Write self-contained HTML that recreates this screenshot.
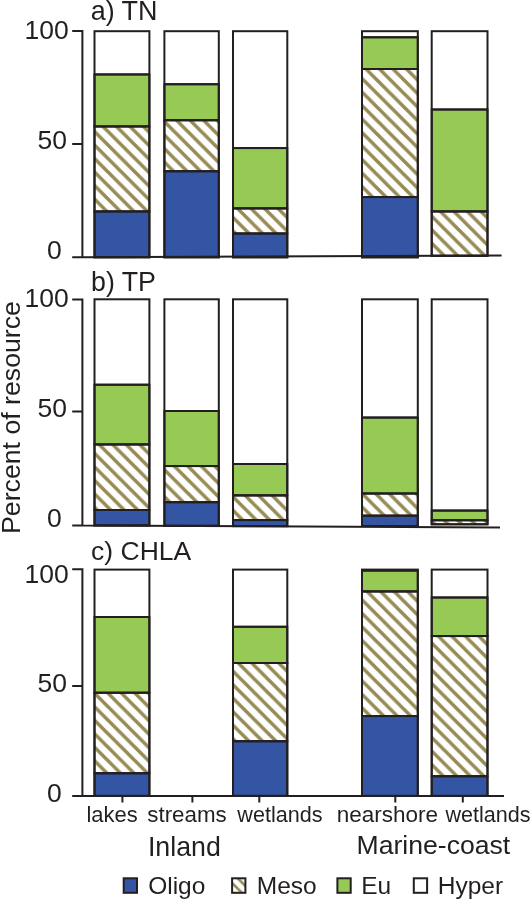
<!DOCTYPE html>
<html><head><meta charset="utf-8"><style>
html,body{margin:0;padding:0;background:#fff;}
body{width:531px;height:900px;overflow:hidden;}
svg{display:block;will-change:transform;}
text{font-family:"Liberation Sans",sans-serif;fill:#231f20;}
</style></head><body>
<svg width="531" height="900" viewBox="0 0 531 900">
<defs>
<pattern id="h0lakes" x="0" y="-3.5" width="13.5" height="13.5" patternUnits="userSpaceOnUse"><rect width="13.5" height="13.5" fill="#fff"/><path d="M-2,-2 L15.5,15.5 M11.5,-2 L15.5,2 M-2,11.5 L2,15.5" stroke="#978b55" stroke-width="3.5"/></pattern>
<pattern id="h0streams" x="0" y="-2.3" width="13.5" height="13.5" patternUnits="userSpaceOnUse"><rect width="13.5" height="13.5" fill="#fff"/><path d="M-2,-2 L15.5,15.5 M11.5,-2 L15.5,2 M-2,11.5 L2,15.5" stroke="#978b55" stroke-width="3.5"/></pattern>
<pattern id="h0wet" x="0" y="-2.1" width="13.5" height="13.5" patternUnits="userSpaceOnUse"><rect width="13.5" height="13.5" fill="#fff"/><path d="M-2,-2 L15.5,15.5 M11.5,-2 L15.5,2 M-2,11.5 L2,15.5" stroke="#978b55" stroke-width="3.5"/></pattern>
<pattern id="h0near" x="0" y="0.0" width="13.5" height="13.5" patternUnits="userSpaceOnUse"><rect width="13.5" height="13.5" fill="#fff"/><path d="M-2,-2 L15.5,15.5 M11.5,-2 L15.5,2 M-2,11.5 L2,15.5" stroke="#978b55" stroke-width="3.5"/></pattern>
<pattern id="h0mwet" x="0" y="0.5" width="13.5" height="13.5" patternUnits="userSpaceOnUse"><rect width="13.5" height="13.5" fill="#fff"/><path d="M-2,-2 L15.5,15.5 M11.5,-2 L15.5,2 M-2,11.5 L2,15.5" stroke="#978b55" stroke-width="3.5"/></pattern>
<pattern id="h1lakes" x="0" y="-5.7" width="13.5" height="13.5" patternUnits="userSpaceOnUse"><rect width="13.5" height="13.5" fill="#fff"/><path d="M-2,-2 L15.5,15.5 M11.5,-2 L15.5,2 M-2,11.5 L2,15.5" stroke="#978b55" stroke-width="3.5"/></pattern>
<pattern id="h1streams" x="0" y="-5.2" width="13.5" height="13.5" patternUnits="userSpaceOnUse"><rect width="13.5" height="13.5" fill="#fff"/><path d="M-2,-2 L15.5,15.5 M11.5,-2 L15.5,2 M-2,11.5 L2,15.5" stroke="#978b55" stroke-width="3.5"/></pattern>
<pattern id="h1wet" x="0" y="-6.2" width="13.5" height="13.5" patternUnits="userSpaceOnUse"><rect width="13.5" height="13.5" fill="#fff"/><path d="M-2,-2 L15.5,15.5 M11.5,-2 L15.5,2 M-2,11.5 L2,15.5" stroke="#978b55" stroke-width="3.5"/></pattern>
<pattern id="h1near" x="0" y="-3.6" width="13.5" height="13.5" patternUnits="userSpaceOnUse"><rect width="13.5" height="13.5" fill="#fff"/><path d="M-2,-2 L15.5,15.5 M11.5,-2 L15.5,2 M-2,11.5 L2,15.5" stroke="#978b55" stroke-width="3.5"/></pattern>
<pattern id="h1mwet" x="0" y="-5.0" width="13.5" height="13.5" patternUnits="userSpaceOnUse"><rect width="13.5" height="13.5" fill="#fff"/><path d="M-2,-2 L15.5,15.5 M11.5,-2 L15.5,2 M-2,11.5 L2,15.5" stroke="#978b55" stroke-width="3.5"/></pattern>
<pattern id="h2lakes" x="0" y="4.7" width="13.5" height="13.5" patternUnits="userSpaceOnUse"><rect width="13.5" height="13.5" fill="#fff"/><path d="M-2,-2 L15.5,15.5 M11.5,-2 L15.5,2 M-2,11.5 L2,15.5" stroke="#978b55" stroke-width="3.5"/></pattern>
<pattern id="h2wet" x="0" y="6.2" width="13.5" height="13.5" patternUnits="userSpaceOnUse"><rect width="13.5" height="13.5" fill="#fff"/><path d="M-2,-2 L15.5,15.5 M11.5,-2 L15.5,2 M-2,11.5 L2,15.5" stroke="#978b55" stroke-width="3.5"/></pattern>
<pattern id="h2near" x="0" y="-5.2" width="13.5" height="13.5" patternUnits="userSpaceOnUse"><rect width="13.5" height="13.5" fill="#fff"/><path d="M-2,-2 L15.5,15.5 M11.5,-2 L15.5,2 M-2,11.5 L2,15.5" stroke="#978b55" stroke-width="3.5"/></pattern>
<pattern id="h2mwet" x="0" y="-4.7" width="13.5" height="13.5" patternUnits="userSpaceOnUse"><rect width="13.5" height="13.5" fill="#fff"/><path d="M-2,-2 L15.5,15.5 M11.5,-2 L15.5,2 M-2,11.5 L2,15.5" stroke="#978b55" stroke-width="3.5"/></pattern>
<pattern id="hatch2" x="0" y="2" width="10.3" height="10.3" patternUnits="userSpaceOnUse">
<rect width="10.3" height="10.3" fill="#fff"/>
<path d="M-2,-2 L12.3,12.3 M8.3,-2 L12.3,2 M-2,8.3 L2,12.3" stroke="#978b55" stroke-width="2.6"/>
</pattern>
</defs>
<g stroke="#231f20" stroke-width="2.0">
<rect x="94.5" y="74.4" width="54.90" height="52.10" fill="#96ca55"/>
<rect x="94.5" y="126.5" width="54.90" height="85.00" fill="url(#h0lakes)"/>
<rect x="94.5" y="211.5" width="54.90" height="45.80" fill="#3454a4"/>
<line x1="94.5" x2="149.4" y1="74.4" y2="74.4"/>
<line x1="94.5" x2="149.4" y1="126.5" y2="126.5"/>
<line x1="94.5" x2="149.4" y1="211.5" y2="211.5"/>
<rect x="94.5" y="31.2" width="54.90" height="226.10" fill="none"/>
<rect x="164.4" y="84.2" width="54.40" height="36.10" fill="#96ca55"/>
<rect x="164.4" y="120.3" width="54.40" height="51.00" fill="url(#h0streams)"/>
<rect x="164.4" y="171.3" width="54.40" height="86.00" fill="#3454a4"/>
<line x1="164.4" x2="218.8" y1="84.2" y2="84.2"/>
<line x1="164.4" x2="218.8" y1="120.3" y2="120.3"/>
<line x1="164.4" x2="218.8" y1="171.3" y2="171.3"/>
<rect x="164.4" y="31.2" width="54.40" height="226.10" fill="none"/>
<rect x="233.0" y="148.1" width="54.30" height="60.30" fill="#96ca55"/>
<rect x="233.0" y="208.4" width="54.30" height="25.20" fill="url(#h0wet)"/>
<rect x="233.0" y="233.6" width="54.30" height="23.70" fill="#3454a4"/>
<line x1="233.0" x2="287.3" y1="148.1" y2="148.1"/>
<line x1="233.0" x2="287.3" y1="208.4" y2="208.4"/>
<line x1="233.0" x2="287.3" y1="233.6" y2="233.6"/>
<rect x="233.0" y="31.2" width="54.30" height="226.10" fill="none"/>
<rect x="362.0" y="37.3" width="55.80" height="31.70" fill="#96ca55"/>
<rect x="362.0" y="69.0" width="55.80" height="128.10" fill="url(#h0near)"/>
<rect x="362.0" y="197.1" width="55.80" height="60.20" fill="#3454a4"/>
<line x1="362.0" x2="417.8" y1="37.3" y2="37.3"/>
<line x1="362.0" x2="417.8" y1="69.0" y2="69.0"/>
<line x1="362.0" x2="417.8" y1="197.1" y2="197.1"/>
<rect x="362.0" y="31.2" width="55.80" height="226.10" fill="none"/>
<rect x="431.7" y="109.5" width="55.80" height="102.00" fill="#96ca55"/>
<rect x="431.7" y="211.5" width="55.80" height="44.30" fill="url(#h0mwet)"/>
<line x1="431.7" x2="487.5" y1="109.5" y2="109.5"/>
<line x1="431.7" x2="487.5" y1="211.5" y2="211.5"/>
<rect x="431.7" y="31.2" width="55.80" height="224.60" fill="none"/>
<path d="M72.2,31.0 H82.4 V257.3 M72.2,144.0 H82.4 M72.2,257.3 L82.4,257.3 L501.6,255.6" fill="none"/>
<rect x="94.5" y="384.7" width="54.90" height="59.80" fill="#96ca55"/>
<rect x="94.5" y="444.5" width="54.90" height="65.50" fill="url(#h1lakes)"/>
<rect x="94.5" y="510.0" width="54.90" height="15.40" fill="#3454a4"/>
<line x1="94.5" x2="149.4" y1="384.7" y2="384.7"/>
<line x1="94.5" x2="149.4" y1="444.5" y2="444.5"/>
<line x1="94.5" x2="149.4" y1="510.0" y2="510.0"/>
<rect x="94.5" y="299.3" width="54.90" height="226.10" fill="none"/>
<rect x="164.4" y="411.0" width="54.40" height="55.10" fill="#96ca55"/>
<rect x="164.4" y="466.1" width="54.40" height="36.10" fill="url(#h1streams)"/>
<rect x="164.4" y="502.2" width="54.40" height="23.60" fill="#3454a4"/>
<line x1="164.4" x2="218.8" y1="411.0" y2="411.0"/>
<line x1="164.4" x2="218.8" y1="466.1" y2="466.1"/>
<line x1="164.4" x2="218.8" y1="502.2" y2="502.2"/>
<rect x="164.4" y="299.3" width="54.40" height="226.50" fill="none"/>
<rect x="233.0" y="464.0" width="54.30" height="31.40" fill="#96ca55"/>
<rect x="233.0" y="495.4" width="54.30" height="24.70" fill="url(#h1wet)"/>
<rect x="233.0" y="520.1" width="54.30" height="6.00" fill="#3454a4"/>
<line x1="233.0" x2="287.3" y1="464.0" y2="464.0"/>
<line x1="233.0" x2="287.3" y1="495.4" y2="495.4"/>
<line x1="233.0" x2="287.3" y1="520.1" y2="520.1"/>
<rect x="233.0" y="299.3" width="54.30" height="226.80" fill="none"/>
<rect x="362.0" y="417.6" width="55.80" height="76.00" fill="#96ca55"/>
<rect x="362.0" y="493.6" width="55.80" height="22.10" fill="url(#h1near)"/>
<rect x="362.0" y="515.7" width="55.80" height="10.30" fill="#3454a4"/>
<line x1="362.0" x2="417.8" y1="417.6" y2="417.6"/>
<line x1="362.0" x2="417.8" y1="493.6" y2="493.6"/>
<line x1="362.0" x2="417.8" y1="515.7" y2="515.7"/>
<rect x="362.0" y="299.3" width="55.80" height="226.70" fill="none"/>
<rect x="431.7" y="510.6" width="55.80" height="9.70" fill="#96ca55"/>
<rect x="431.7" y="520.3" width="55.80" height="4.00" fill="url(#h1mwet)"/>
<line x1="431.7" x2="487.5" y1="510.6" y2="510.6"/>
<line x1="431.7" x2="487.5" y1="520.3" y2="520.3"/>
<rect x="431.7" y="299.3" width="55.80" height="225.00" fill="none"/>
<path d="M72.2,299.4 H82.4 V525.5 M72.2,411.6 H82.4 M72.2,525.5 L82.4,525.5 L500.0,527.5" fill="none"/>
<rect x="94.5" y="617.0" width="54.90" height="75.80" fill="#96ca55"/>
<rect x="94.5" y="692.8" width="54.90" height="80.50" fill="url(#h2lakes)"/>
<rect x="94.5" y="773.3" width="54.90" height="22.60" fill="#3454a4"/>
<line x1="94.5" x2="149.4" y1="617.0" y2="617.0"/>
<line x1="94.5" x2="149.4" y1="692.8" y2="692.8"/>
<line x1="94.5" x2="149.4" y1="773.3" y2="773.3"/>
<rect x="94.5" y="569.6" width="54.90" height="226.30" fill="none"/>
<rect x="233.0" y="626.8" width="54.30" height="36.20" fill="#96ca55"/>
<rect x="233.0" y="663.0" width="54.30" height="78.30" fill="url(#h2wet)"/>
<rect x="233.0" y="741.3" width="54.30" height="54.60" fill="#3454a4"/>
<line x1="233.0" x2="287.3" y1="626.8" y2="626.8"/>
<line x1="233.0" x2="287.3" y1="663.0" y2="663.0"/>
<line x1="233.0" x2="287.3" y1="741.3" y2="741.3"/>
<rect x="233.0" y="569.6" width="54.30" height="226.30" fill="none"/>
<rect x="362.0" y="570.6" width="55.80" height="20.90" fill="#96ca55"/>
<rect x="362.0" y="591.5" width="55.80" height="124.60" fill="url(#h2near)"/>
<rect x="362.0" y="716.1" width="55.80" height="79.80" fill="#3454a4"/>
<line x1="362.0" x2="417.8" y1="570.6" y2="570.6"/>
<line x1="362.0" x2="417.8" y1="591.5" y2="591.5"/>
<line x1="362.0" x2="417.8" y1="716.1" y2="716.1"/>
<rect x="362.0" y="569.6" width="55.80" height="226.30" fill="none"/>
<rect x="431.7" y="597.5" width="55.80" height="38.60" fill="#96ca55"/>
<rect x="431.7" y="636.1" width="55.80" height="140.20" fill="url(#h2mwet)"/>
<rect x="431.7" y="776.3" width="55.80" height="19.60" fill="#3454a4"/>
<line x1="431.7" x2="487.5" y1="597.5" y2="597.5"/>
<line x1="431.7" x2="487.5" y1="636.1" y2="636.1"/>
<line x1="431.7" x2="487.5" y1="776.3" y2="776.3"/>
<rect x="431.7" y="569.6" width="55.80" height="226.30" fill="none"/>
<path d="M72.2,569.2 H82.4 V795.9 M72.2,686.0 H82.4 M72.2,795.9 L82.4,795.9 L504.0,796.0" fill="none"/>
<line x1="122.4" x2="122.4" y1="796" y2="802.5"/>
<line x1="192.4" x2="192.4" y1="796" y2="802.5"/>
<line x1="259.3" x2="259.3" y1="796" y2="802.5"/>
<line x1="395.3" x2="395.3" y1="796" y2="802.5"/>
<line x1="462.8" x2="462.8" y1="796" y2="802.5"/>
<rect x="123.7" y="878.3" width="13.3" height="14.5" fill="#3454a4"/>
<rect x="232.1" y="878.3" width="13.3" height="14.5" fill="url(#hatch2)"/>
<rect x="337.4" y="878.3" width="13.3" height="14.5" fill="#96ca55"/>
<rect x="413.8" y="878.3" width="13.3" height="14.5" fill="#fff"/>
</g>
<g stroke="#231f20" stroke-width="2">
</g>
<text x="90.67" y="19.60" font-size="26.96" >a) TN</text>
<text x="91.06" y="290.60" font-size="26.76" >b) TP</text>
<text x="91.09" y="559.80" font-size="26.51" >c) CHLA</text>
<text x="24.59" y="39.40" font-size="26.50" >100</text>
<text x="37.54" y="148.70" font-size="26.50" >50</text>
<text x="46.97" y="258.60" font-size="26.50" >0</text>
<text x="24.59" y="307.40" font-size="26.50" >100</text>
<text x="37.54" y="417.40" font-size="26.50" >50</text>
<text x="46.97" y="527.40" font-size="26.50" >0</text>
<text x="24.59" y="583.10" font-size="26.50" >100</text>
<text x="37.54" y="692.30" font-size="26.50" >50</text>
<text x="46.97" y="801.60" font-size="26.50" >0</text>
<text x="86.43" y="822.00" font-size="21.96" >lakes</text>
<text x="147.27" y="822.00" font-size="22.34" >streams</text>
<text x="237.32" y="822.00" font-size="21.60" >wetlands</text>
<text x="336.82" y="822.00" font-size="22.49" >nearshore</text>
<text x="445.42" y="822.00" font-size="21.57" >wetlands</text>
<text x="147.94" y="855.50" font-size="26.75" >Inland</text>
<text x="356.52" y="853.80" font-size="26.60" >Marine-coast</text>
<text x="148.15" y="894.00" font-size="24.50" >Oligo</text>
<text x="256.79" y="894.00" font-size="24.50" >Meso</text>
<text x="361.29" y="894.00" font-size="24.50" >Eu</text>
<text x="437.79" y="894.00" font-size="24.50" >Hyper</text>
<text transform="translate(19.8,533.99) rotate(-90)" font-size="26.7">Percent of resource</text>
</svg>
</body></html>
